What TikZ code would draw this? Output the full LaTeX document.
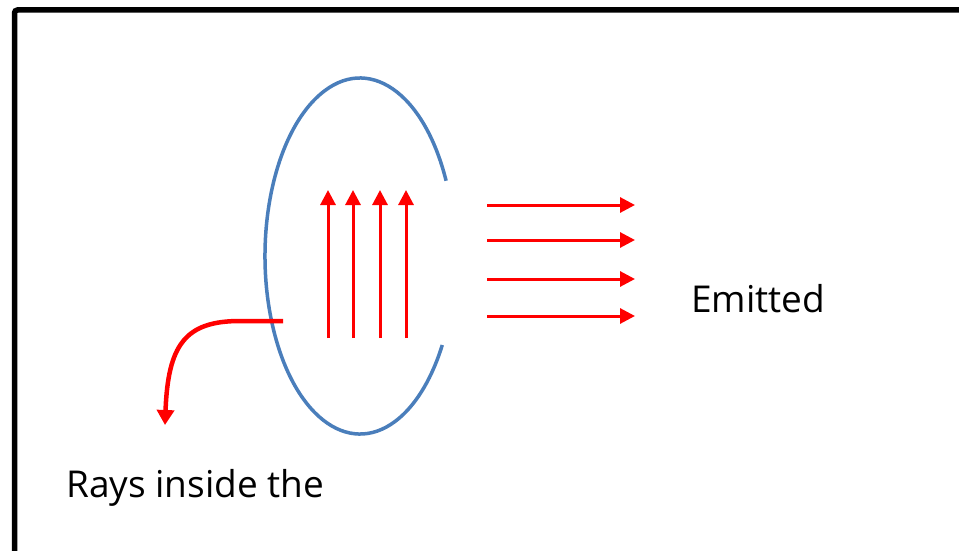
\documentclass[tikz,border=0pt]{standalone}
\usepackage{fontspec}
\setmainfont{Open Sans}
\usetikzlibrary{arrows.meta}
\definecolor{ringblue}{RGB}{74,126,187}
\tikzset{
  ray/.style={draw=red, line width=3pt, -{Triangle[length=15pt,width=15pt]}},
  bentray/.style={draw=red, line width=4.5pt, -{Triangle[length=15pt,width=17pt]}},
  label/.style={font=\fontsize{37}{41}\selectfont, inner sep=0pt, anchor=base west},
}
\begin{document}
\begin{tikzpicture}[x=1pt,y=1pt]
\useasboundingbox (0,0) rectangle (959,-551);
\fill[white] (0,0) rectangle (959,-551);
% frame
\draw[line width=5.5pt, rounded corners=3pt] (14.5,-600) -- (14.5,-10) -- (1000,-10);
% ring with gap on the right
\draw[ringblue, line width=3.5pt] (360,-256) ++(25:95 and 178) arc[start angle=25, end angle=330, x radius=95, y radius=178];
% vertical rays
\foreach \x [count=\i] in {328,353,380,406} {
  \coordinate (v\i a) at (\x,-338);
  \coordinate (v\i b) at (\x,-190);
  \draw[ray] (v\i a) -- (v\i b);
}
% emitted rays
\foreach \y [count=\i] in {205,240,279,316} {
  \coordinate (h\i a) at (487,-\y);
  \coordinate (h\i b) at (635,-\y);
  \draw[ray] (h\i a) -- (h\i b);
}
% bent ray
\coordinate (b0) at (283,-321);
\coordinate (b1) at (240,-321);
\coordinate (b2) at (165,-425);
\draw[bentray] (b0) -- (b1) .. controls (185,-321) and (168,-345) .. (b2);
% labels
\node[label] (emitted) at (691,-312) {Emitted};
\node[label] (rays) at (66,-497) {Rays inside the};
\end{tikzpicture}
\end{document}
